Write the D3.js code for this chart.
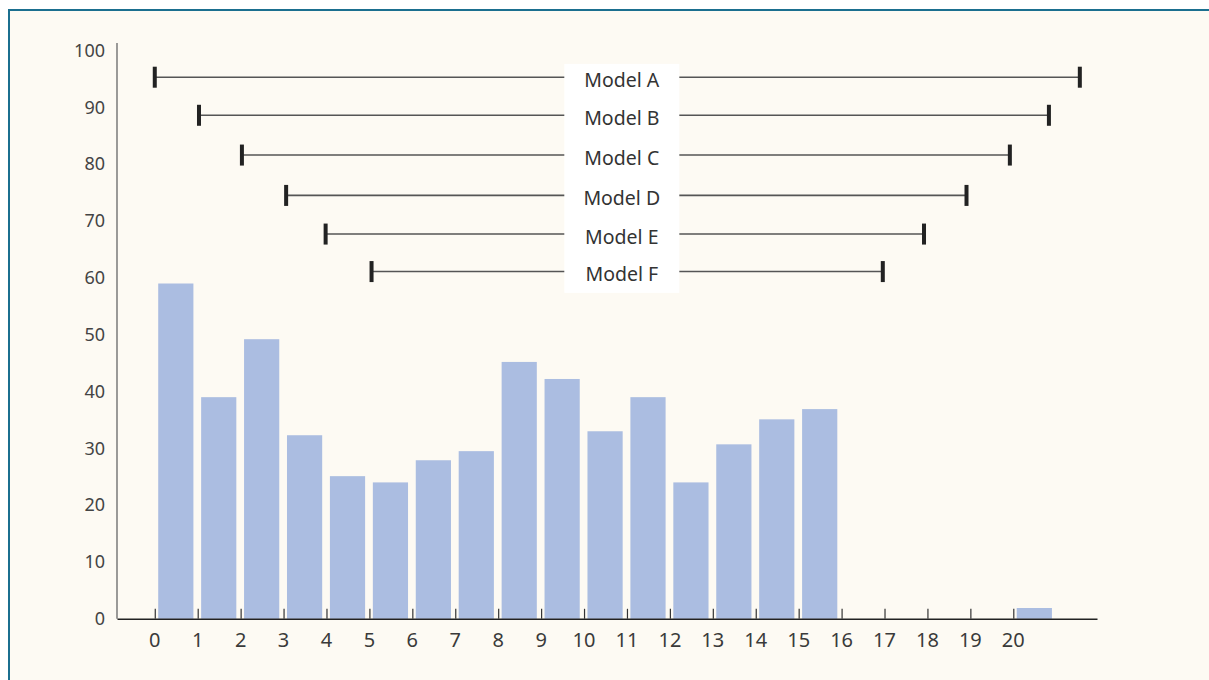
<!DOCTYPE html>
<html>
<head>
<meta charset="utf-8">
<script src="https://cdn.jsdelivr.net/npm/d3@7"></script>
<style>
  body { margin: 0; background: #ffffff; }
  svg { display: block; font-family: "Noto Sans", "Open Sans", sans-serif; }
</style>
</head>
<body>
<svg id="chart" width="1209" height="680"></svg>
<script>
// histogram counts per bin (bin i spans i..i+1)
var binStarts = d3.range(0, 21)
var counts = [59, 39, 49.2, 32.3, 25.1, 24, 27.9, 29.5, 45.2, 42.2, 33, 39, 24, 30.7, 35.1, 36.9, 0, 0, 0, 0, 1.9]

// range bars drawn above the histogram
var models = ["Model A", "Model B", "Model C", "Model D", "Model E", "Model F"]
var modelLevel = [95.3, 88.6, 81.6, 74.5, 67.7, 61.1]
var modelLow = [0, 1.03, 2.03, 3.06, 3.98, 5.05]
var modelHigh = [21.55, 20.83, 19.92, 18.91, 17.92, 16.96]

var xTicks = d3.range(0, 21)
var yTicks = d3.range(0, 101, 10)

var svg = d3.select("#chart")

// frame
svg.append("rect")
    .attr("x", 9).attr("y", 10)
    .attr("width", 1220).attr("height", 700)
    .attr("fill", "#fdfaf3")
    .attr("stroke", "#1b6f8f")
    .attr("stroke-width", 2)

var X = d3.scaleLinear()
    .domain([-0.88, 21.95])
    .range([117, 1097])

var Y = d3.scaleLinear()
    .domain([0, 100])
    .range([618.8, 50.5])

// bars
svg.append("g").selectAll("rect")
    .data(binStarts)
    .join("rect")
    .attr("x", d => X(d + 0.08))
    .attr("width", d => X(d + 0.9) - X(d + 0.08))
    .attr("y", (d, i) => Y(counts[i]))
    .attr("height", (d, i) => Y(0) - Y(counts[i]))
    .attr("fill", "#abbde1")

// y axis: plain line and labels, no ticks
svg.append("line")
    .attr("x1", X.range()[0]).attr("x2", X.range()[0])
    .attr("y1", Y(0)).attr("y2", Y(101.3))
    .attr("stroke", "#666").attr("stroke-width", 1.3)

svg.append("g").selectAll("text")
    .data(yTicks)
    .join("text")
    .attr("x", X.range()[0] - 12)
    .attr("y", d => Y(d))
    .attr("dy", "0.35em")
    .attr("text-anchor", "end")
    .attr("font-size", 18)
    .attr("fill", "#444")
    .text(d => d)

// x axis with ticks pointing up
var xAxis = svg.append("g")
    .attr("transform", `translate(0, ${Y(0)})`)
    .call(d3.axisTop(X).tickValues(xTicks).tickSize(10).tickSizeOuter(0))

xAxis.select(".domain").attr("stroke", "#222").attr("stroke-width", 1.6)
xAxis.selectAll(".tick line").attr("stroke", "#333").attr("stroke-width", 1.2)
xAxis.selectAll(".tick text").remove()

svg.append("g").selectAll("text")
    .data(xTicks)
    .join("text")
    .attr("x", d => X(d))
    .attr("y", Y(0) + 21)
    .attr("dy", "0.35em")
    .attr("text-anchor", "middle")
    .attr("font-size", 20)
    .attr("fill", "#3a3a3a")
    .text(d => d)

// range lines with end caps
var rangeG = svg.append("g")

rangeG.selectAll("line.span")
    .data(models)
    .join("line")
    .attr("class", "span")
    .attr("x1", (d, i) => X(modelLow[i]))
    .attr("x2", (d, i) => X(modelHigh[i]))
    .attr("y1", (d, i) => Y(modelLevel[i]))
    .attr("y2", (d, i) => Y(modelLevel[i]))
    .attr("stroke", "#555")
    .attr("stroke-width", 1.6)

var capEnds = []
models.forEach((m, i) => {
    capEnds.push({ v: modelLow[i], y: modelLevel[i] })
    capEnds.push({ v: modelHigh[i], y: modelLevel[i] })
})

rangeG.selectAll("rect.cap")
    .data(capEnds)
    .join("rect")
    .attr("class", "cap")
    .attr("x", d => X(d.v) - 2)
    .attr("width", 4)
    .attr("y", d => Y(d.y) - 10.5)
    .attr("height", 21)
    .attr("fill", "#222")

// white label panel
var labelCenter = X(10.88)
svg.append("rect")
    .attr("x", labelCenter - 57.5)
    .attr("width", 115)
    .attr("y", Y(modelLevel[0]) - 13.3)
    .attr("height", Y(modelLevel[modelLevel.length - 1]) + 21.3 - (Y(modelLevel[0]) - 13.3))
    .attr("fill", "#ffffff")

svg.append("g").selectAll("text")
    .data(models)
    .join("text")
    .attr("x", labelCenter)
    .attr("y", (d, i) => Y(modelLevel[i]) + 2.7)
    .attr("dy", "0.35em")
    .attr("text-anchor", "middle")
    .attr("font-size", 19.5)
    .attr("fill", "#333")
    .text(d => d)
</script>
</body>
</html>
